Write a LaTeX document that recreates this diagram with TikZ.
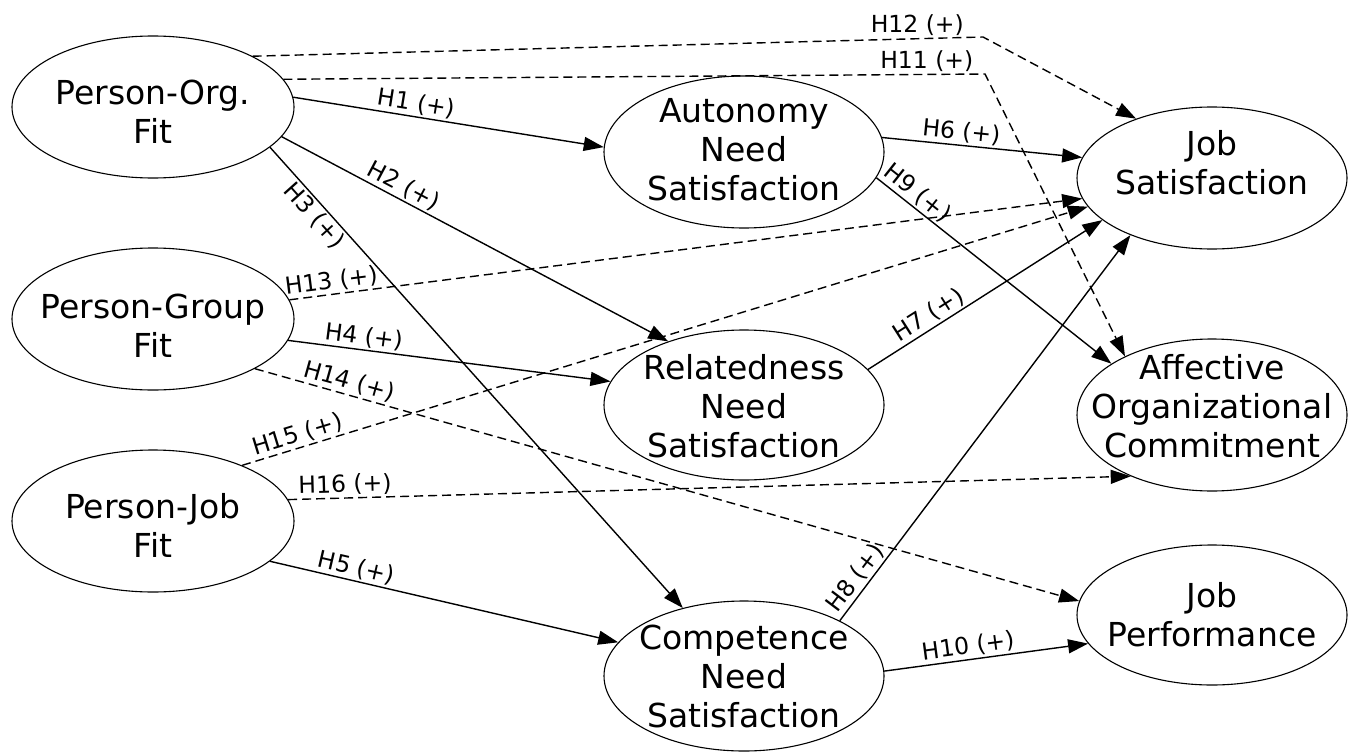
\documentclass[tikz,border=0pt]{standalone}
\usepackage{fontspec}
\setmainfont{DejaVu Sans}
\usetikzlibrary{shapes.geometric,arrows.meta}
\begin{document}
\begin{tikzpicture}[x=1pt,y=-1pt,
  latent/.style={ellipse, draw, line width=1.1pt, inner sep=0pt},
  ntext/.style={inner sep=0pt, align=center, font=\fontsize{33}{39}\selectfont},
  sol/.style={-{Triangle[length=20pt,width=14pt]}, line width=1.4pt},
  dsh/.style={sol, dash pattern=on 9pt off 5pt},
  lab/.style={font=\fontsize{23.5}{27}\selectfont, inner sep=2pt}]
\useasboundingbox (0,0) rectangle (1348,752);

\node[latent, minimum width=282pt, minimum height=142pt] (pof) at (153,107) {};
\node[latent, minimum width=282pt, minimum height=142pt] (pgf) at (153,319) {};
\node[latent, minimum width=282pt, minimum height=142pt] (pjf) at (153,521) {};
\node[latent, minimum width=280pt, minimum height=152pt] (ans) at (744,152) {};
\node[latent, minimum width=280pt, minimum height=150pt] (rns) at (744,405) {};
\node[latent, minimum width=280pt, minimum height=150pt] (cns) at (744,676) {};
\node[latent, minimum width=270pt, minimum height=142pt] (js) at (1212,178) {};
\node[latent, minimum width=270pt, minimum height=152pt] (aoc) at (1212,415) {};
\node[latent, minimum width=270pt, minimum height=140pt] (jp) at (1212,615) {};

\node[ntext] (pof-t) at (153,112) {Person-Org.\\Fit};
\node[ntext] (pgf-t) at (153,326) {Person-Group\\Fit};
\node[ntext] (pjf-t) at (153,525) {Person-Job\\Fit};
\node[ntext] (ans-t) at (744,150) {Autonomy\\Need\\Satisfaction};
\node[ntext] (rns-t) at (744,406) {Relatedness\\Need\\Satisfaction};
\node[ntext] (cns-t) at (744,676) {Competence\\Need\\Satisfaction};
\node[ntext] (js-t) at (1212,163) {Job\\Satisfaction};
\node[ntext] (aoc-t) at (1212,406) {Affective\\Organizational\\Commitment};
\node[ntext] (jp-t) at (1212,615) {Job\\Performance};

\coordinate (c12) at (983,37);
\coordinate (c11) at (985,74);

% solid paths
\draw[sol] (pof.4) -- node[lab, sloped, above, pos=.39] {H1 (+)} (ans.178);
\draw[sol] (pof.-13) -- node[lab, sloped, above, pos=.30] {H2 (+)} (rns.140);
\draw[sol] (pof.-19) -- node[lab, sloped, below, pos=.13] {H3 (+)} (cns.132);
\draw[sol] (pgf.-9) -- node[lab, sloped, above, pos=.23] {H4 (+)} (rns.170);
\draw[sol] (pjf.-19) -- node[lab, sloped, above, pos=.24] {H5 (+)} (cns.165);
\draw[sol] (ans.6) -- node[lab, sloped, above, pos=.39] {H6 (+)} (js.171);
\draw[sol] (rns.16) -- node[lab, sloped, above, pos=.29] {H7 (+)} (js.-159);
\draw[sol] (cns.30) -- node[lab, sloped, above, pos=.09] {H8 (+)} (js.-145);
\draw[sol] (ans.-11) -- node[lab, sloped, above, pos=.14] {H9 (+)} (aoc.153);
\draw[sol] (cns.2) -- node[lab, sloped, above, pos=.42] {H10 (+)} (jp.-167);

% dashed paths
\draw[dsh] (pof.27) -- node[lab, above, pos=.91] {H12 (+)} (c12) -- (js.142);
\draw[dsh] (pof.12) -- node[lab, above, pos=.917] {H11 (+)} (c11) -- (aoc.146);
\draw[dsh] (pgf.8) -- node[lab, sloped, above, pos=.055] {H13 (+)} (js.-171);
\draw[dsh] (pgf.-26) -- node[lab, sloped, above, pos=.11] {H14 (+)} (jp.174);
\draw[dsh] (pjf.32.5) -- node[lab, sloped, above, pos=.07] {H15 (+)} (js.-167);
\draw[dsh] (pjf.9) -- node[lab, sloped, above, pos=.068] {H16 (+)} (aoc.-143);
\end{tikzpicture}
\end{document}
